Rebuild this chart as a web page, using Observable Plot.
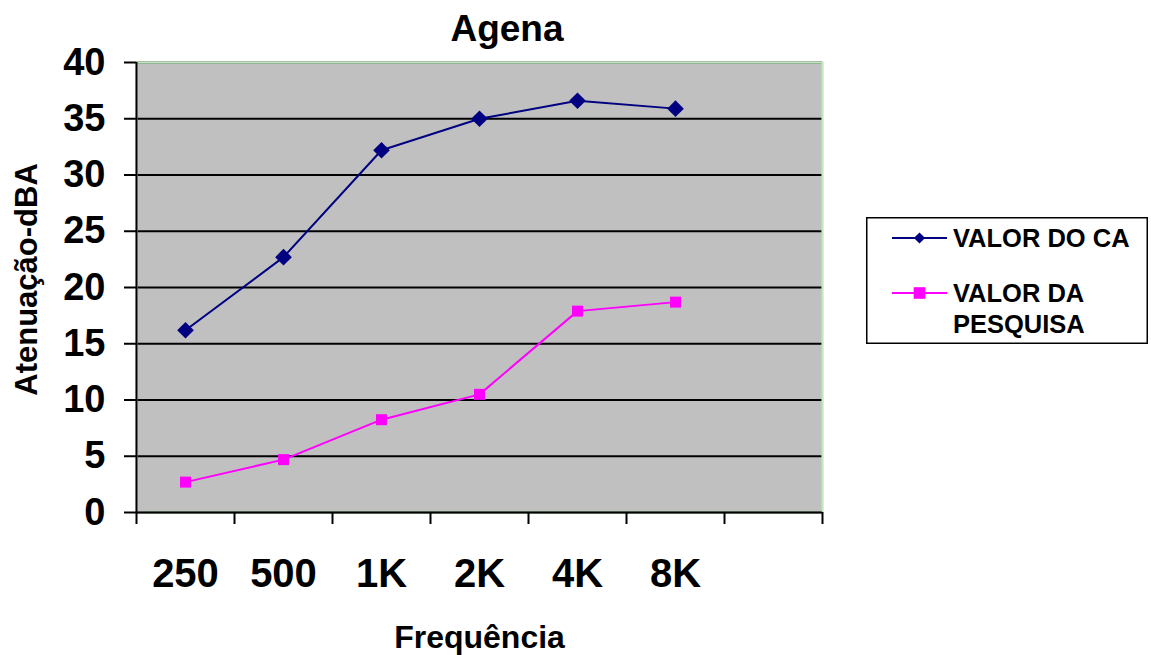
<!DOCTYPE html>
<html>
<head>
<meta charset="utf-8">
<script src="https://cdn.jsdelivr.net/npm/d3@7"></script>
<script src="https://cdn.jsdelivr.net/npm/@observablehq/plot@0.6"></script>
<style>
  html, body { margin: 0; padding: 0; background: #fff; }
  #chart { position: relative; width: 1151px; height: 655px; overflow: hidden;
           font-family: "Liberation Sans", Arial, sans-serif; font-weight: bold; }
  #title { position: absolute; left: 0; top: 10px; width: 1014px; text-align: center;
           font-size: 37px; line-height: 37px; color: #000; }
  #legend { position: absolute; left: 866px; top: 217px; }
</style>
</head>
<body>
<div id="chart">
  <div id="title"></div>
  <div id="plot"></div>
  <div id="legend"></div>
</div>
<script>
// ---- data ----
const titleText = "Agena";
const xLabel = "Frequência";
const yLabel = "Atenuação-dBA";
const categories = ["250", "500", "1K", "2K", "4K", "8K"];
const slotCount = 7; // category slots on the axis (last one empty)
const yTicks = [0, 5, 10, 15, 20, 25, 30, 35, 40];
const seriesNames = ["VALOR DO CA", "VALOR DA PESQUISA"];
const legendLines = [["VALOR DO CA"], ["VALOR DA", "PESQUISA"]];
const valorCA = [16.2, 22.7, 32.2, 35.0, 36.6, 35.9];
const valorPesquisa = [2.7, 4.7, 8.25, 10.5, 17.9, 18.7];
const seriesColors = ["#000080", "#ff00ff"];
const seriesSymbols = ["diamond2", "square"];

// ---- build table ----
const rows = [];
[valorCA, valorPesquisa].forEach((vals, s) => {
  vals.forEach((v, i) => rows.push({series: seriesNames[s], idx: i + 0.5, value: v, cat: categories[i]}));
});
const boundaries = d3.range(0, slotCount + 1);
const centers = categories.map((c, i) => i + 0.5);

document.getElementById("title").textContent = titleText;

const font = "'Liberation Sans', Arial, sans-serif";
const plot = Plot.plot({
  width: 1151,
  height: 655,
  marginLeft: 136,
  marginRight: 329,
  marginTop: 62,
  marginBottom: 143,
  style: {fontFamily: font, fontWeight: "bold", fontSize: "38px", background: "transparent", overflow: "visible"},
  x: {type: "linear", domain: [0, slotCount]},
  y: {domain: [0, 40]},
  marks: [
    Plot.frame({fill: "#c0c0c0", stroke: "none"}),
    Plot.ruleY(yTicks, {stroke: "#000", strokeWidth: 2}),
    Plot.frame({stroke: "#bfe8bf", strokeWidth: 2.2, fill: "none"}),
    Plot.ruleX([0], {y1: 0, y2: 40, stroke: "#000", strokeWidth: 2}),
    Plot.ruleY([0], {stroke: "#000", strokeWidth: 2}),
    Plot.axisY({ticks: yTicks, tickSize: 12, tickPadding: 19, strokeWidth: 2, stroke: "#000",
      fontSize: 38, fontWeight: "bold", fill: "#000", label: null, tickFormat: d => String(d)}),
    Plot.axisX({ticks: boundaries, tickSize: 12, strokeWidth: 2, stroke: "#000", tickFormat: () => "", label: null}),
    Plot.axisX({ticks: centers, tickSize: 0, tickPadding: 46, fontSize: 40, fontWeight: "bold", fill: "#000",
      tickFormat: d => categories[Math.round(d - 0.5)], label: null}),
    Plot.line(rows, {x: "idx", y: "value", z: "series",
      stroke: d => seriesColors[seriesNames.indexOf(d.series)], strokeWidth: 2}),
    Plot.dot(rows.filter(d => d.series === seriesNames[0]), {x: "idx", y: "value",
      symbol: seriesSymbols[0], r: 7.5, fill: seriesColors[0], stroke: "none"}),
    Plot.dot(rows.filter(d => d.series === seriesNames[1]), {x: "idx", y: "value",
      symbol: seriesSymbols[1], r: 6.2, fill: seriesColors[1], stroke: "none"}),
    Plot.text([xLabel], {text: d => d, frameAnchor: "bottom", lineAnchor: "middle", textAnchor: "middle",
      dy: 125, fontSize: 32, fontWeight: "bold", fill: "#000"}),
    Plot.text([yLabel], {text: d => d, frameAnchor: "left", rotate: -90, textAnchor: "middle", lineAnchor: "middle",
      dx: -109, dy: -8, fontSize: 31, fontWeight: "bold", fill: "#000"})
  ]
});
document.getElementById("plot").appendChild(plot);

// ---- legend ----
const lw = 282, lh = 127;
const leg = d3.select("#legend").append("svg")
  .attr("width", lw).attr("height", lh)
  .style("font-family", font).style("font-weight", "bold").style("overflow", "visible");
leg.append("rect").attr("x", 0.75).attr("y", 0.75).attr("width", lw - 1.5).attr("height", lh - 1.5)
  .attr("fill", "#fff").attr("stroke", "#000").attr("stroke-width", 1.5);
const entryY = [21, 76];
const symbolTypes = [d3.symbolDiamond2, d3.symbolSquare];
const symbolSizes = [80, 135];
seriesNames.forEach((name, s) => {
  const g = leg.append("g").attr("transform", `translate(0,${entryY[s]})`);
  g.append("line").attr("x1", 26).attr("x2", 81).attr("y1", 0).attr("y2", 0)
    .attr("stroke", seriesColors[s]).attr("stroke-width", 2);
  g.append("path").attr("d", d3.symbol(symbolTypes[s], symbolSizes[s])())
    .attr("transform", "translate(53.5,0)").attr("fill", seriesColors[s]);
  legendLines[s].forEach((t, k) => {
    g.append("text").attr("x", 87).attr("y", 8.5 + k * 31.5)
      .attr("font-size", 25.5).attr("fill", "#000").text(t);
  });
});
</script>
</body>
</html>
